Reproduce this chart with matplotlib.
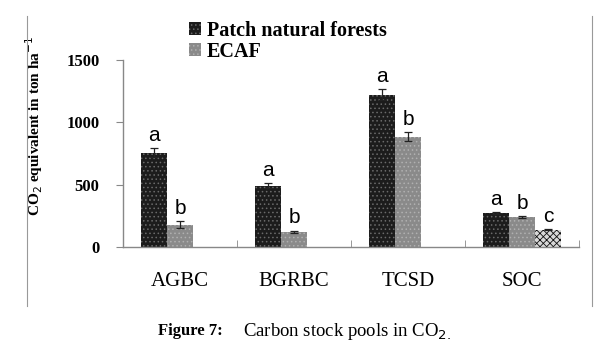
import matplotlib
matplotlib.use('Agg')
import matplotlib.pyplot as plt
import numpy as np

categories = ['AGBC', 'BGRBC', 'TCSD', 'SOC']
natural = [758, 492, 1222, 275]
natural_err = [35, 20, 45, 8]
ecaf = [178, 122, 885, 238]
ecaf_err = [28, 10, 35, 8]
third = [0, 0, 0, 140]
third_err = [0, 0, 0, 6]
letters_nat = ['a', 'a', 'a', 'a']
letters_ecaf = ['b', 'b', 'b', 'b']
letters_third = ['', '', '', 'c']
yticks = [0, 500, 1000, 1500]

plt.rcParams['hatch.linewidth'] = 0.6
fig = plt.figure(figsize=(6.02, 3.58), dpi=100)
ax = fig.add_axes([0.2043, 0.31, 0.7575, 0.5224])

x = np.arange(len(categories))
w = 0.228
serif = 'Liberation Serif'
ekw = dict(lw=0.9, capthick=0.9, ecolor='#222')

b1 = ax.bar(x - w, natural, w, color='#1c1c1c', edgecolor='#6a6a6a', hatch='....', linewidth=0,
            yerr=natural_err, capsize=3, error_kw=ekw, label='Patch natural forests')
b2 = ax.bar(x, ecaf, w, color='#8a8a8a', edgecolor='#b0b0b0', hatch='....', linewidth=0,
            yerr=ecaf_err, capsize=3, error_kw=ekw, label='ECAF')

# third series only present for SOC
idx = [i for i, v in enumerate(third) if v > 0]
ax.bar(x[idx] + w, [third[i] for i in idx], w, color='#d8d8d8', edgecolor='#111', hatch='xxxxx',
       linewidth=0, yerr=[third_err[i] for i in idx], capsize=3, error_kw=ekw)

for i in range(len(categories)):
    ax.text(x[i] - w, natural[i] + natural_err[i] + 25, letters_nat[i], ha='center', va='bottom',
            fontsize=15, family='Liberation Sans', clip_on=False)
    ax.text(x[i], ecaf[i] + ecaf_err[i] + 25, letters_ecaf[i], ha='center', va='bottom',
            fontsize=15, family='Liberation Sans', clip_on=False)
    if letters_third[i]:
        ax.text(x[i] + w, third[i] + third_err[i] + 25, letters_third[i], ha='center', va='bottom',
                fontsize=15, family='Liberation Sans', clip_on=False)

ax.set_xlim(-0.5, len(categories) - 0.5)
ax.set_ylim(0, 1500)
ax.set_yticks(yticks)
ax.set_yticklabels([str(t) for t in yticks], fontsize=12, fontweight='bold', family=serif)
ax.set_xticks(x)
ax.set_xticklabels(categories, fontsize=15, family=serif)
ax.tick_params(axis='x', length=0, pad=18)
ax.set_xticks(np.arange(-0.5, len(categories)), minor=True)
ax.tick_params(axis='x', which='minor', length=5, color='#888', direction='in')
ax.tick_params(axis='y', length=5, color='#888', pad=12)
for s in ['top', 'right']:
    ax.spines[s].set_visible(False)
for s in ['left', 'bottom']:
    ax.spines[s].set_color('#888')
    ax.spines[s].set_linewidth(1.0)

ax.set_ylabel('CO$_2$ equivalent in ton ha$^{-1}$', fontsize=11, fontweight='bold', family=serif)
ax.yaxis.set_label_coords(-0.17, 0.65)

fig.legend(handles=[b1, b2], loc='upper left', bbox_to_anchor=(0.3, 0.965), frameon=False,
           prop=dict(family=serif, weight='bold', size=14.5), handlelength=0.6, handleheight=0.6,
           handletextpad=0.3, labelspacing=0.05, borderaxespad=0)

fig.add_artist(plt.Line2D([0.045, 0.045], [0.145, 0.955], color='#999', lw=0.8))
fig.add_artist(plt.Line2D([0.983, 0.983], [0.145, 0.955], color='#999', lw=0.8))

fig.text(0.262, 0.075, 'Figure 7:', fontsize=12, fontweight='bold', family=serif, va='center')
fig.text(0.404, 0.075, 'Carbon stock pools in CO$_{2.}$', fontsize=13.5, family=serif, va='center')

fig.savefig('out.png', dpi=100)
